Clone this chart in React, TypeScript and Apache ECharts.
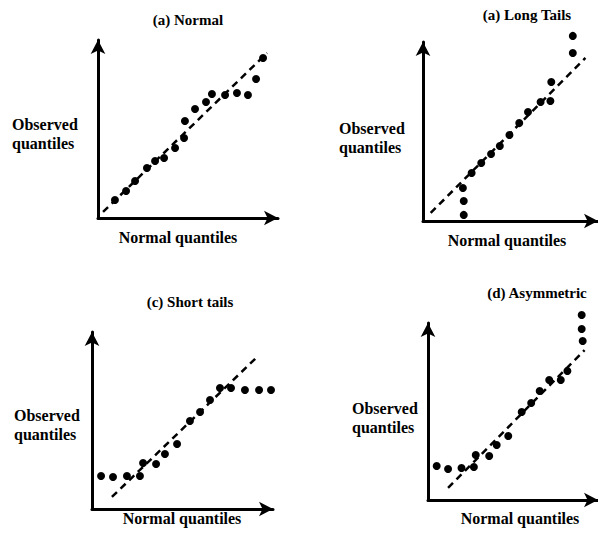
import React, { useEffect, useRef } from "react";
import * as echarts from "echarts";

// Panel titles and axis labels (as printed)
const panelTitles = ["(a) Normal", "(a) Long Tails", "(c) Short tails", "(d) Asymmetric"];
const xAxisLabel = "Normal quantiles";
const yAxisLabel = "Observed\nquantiles";

// Observed vs normal quantiles (axis units 0..10)
const normalPts: [number, number][] = [
  [0.94, 1.01], [1.56, 1.52], [2.06, 2.08], [2.72, 2.81], [3.17, 3.2], [3.67, 3.37],
  [4.28, 3.93], [4.78, 4.49], [4.83, 5.45], [5.39, 6.12], [6.0, 6.52], [6.33, 6.97],
  [7.06, 6.91], [7.72, 7.02], [8.33, 6.91], [8.78, 7.81], [9.17, 8.99],
];
const longTailPts: [number, number][] = [
  [2.33, 0.34], [2.33, 1.12], [2.28, 1.84], [2.78, 2.68], [3.33, 3.24], [3.89, 3.74],
  [4.39, 4.19], [4.94, 4.8], [5.5, 5.47], [6.0, 6.09], [6.72, 6.65], [7.28, 6.7],
  [7.33, 7.77], [8.56, 9.39], [8.56, 10.34],
];
const shortTailPts: [number, number][] = [
  [0.5, 1.86], [1.16, 1.81], [1.93, 1.86], [2.65, 1.86], [2.82, 2.6], [3.54, 2.54],
  [4.03, 3.11], [4.7, 3.67], [5.41, 4.97], [5.97, 5.48], [6.52, 6.16], [7.07, 6.84],
  [7.68, 6.84], [8.45, 6.72], [9.23, 6.72], [9.89, 6.72],
];
const asymPts: [number, number][] = [
  [0.51, 1.92], [1.18, 1.75], [1.97, 1.81], [2.7, 1.86], [2.81, 2.54], [3.6, 2.49],
  [4.04, 3.11], [4.72, 3.62], [5.51, 4.97], [6.07, 5.48], [6.57, 6.16], [7.13, 6.78],
  [7.81, 6.78], [8.2, 7.29], [9.1, 8.98], [9.04, 9.66], [9.04, 10.45],
];
// Reference (dashed) lines, endpoints
const normalRef: [number, number][] = [[0.28, 0.34], [9.39, 9.27]];
const longTailRef: [number, number][] = [[0.44, 0.45], [9.28, 9.11]];
const shortTailRef: [number, number][] = [[1.1, 0.68], [9.06, 8.53]];
const asymRef: [number, number][] = [[1.18, 0.68], [9.21, 8.47]];

const panelPoints = [normalPts, longTailPts, shortTailPts, asymPts];
const panelRefs = [normalRef, longTailRef, shortTailRef, asymRef];

// Layout (pixels)
const grids = [
  { left: 98, top: 40, width: 180, height: 178 },
  { left: 423, top: 42, width: 180, height: 179 },
  { left: 92, top: 332, width: 181, height: 177 },
  { left: 428, top: 323, width: 178, height: 177 },
];
const titlePos = [[188, 20], [527, 15], [190, 302], [537, 293]];
const yLabelPos = [[12, 134], [339, 138], [14, 425], [352, 418]];
const xLabelPos = [[178, 237], [507, 240], [182, 518], [520, 518]];

const FONT = '"Liberation Serif", "Times New Roman", serif';

export default function App() {
  const ref = useRef<HTMLDivElement>(null);
  useEffect(() => {
    if (!ref.current) return;
    const chart = echarts.init(ref.current, null, { renderer: "svg" });
    const axisBase = {
      type: "value" as const,
      min: 0,
      max: 10,
      axisLabel: { show: false },
      axisTick: { show: false },
      splitLine: { show: false },
      axisLine: {
        show: true,
        symbol: ["none", "arrow"],
        symbolSize: [11, 14],
        lineStyle: { color: "#000", width: 3 },
      },
    };
    const series: any[] = [];
    panelPoints.forEach((pts, i) => {
      series.push({
        type: "line",
        xAxisIndex: i,
        yAxisIndex: i,
        data: panelRefs[i],
        symbol: "none",
        clip: false,
        lineStyle: { color: "#000", width: 2.5, type: [7, 5] },
        z: 2,
      });
      series.push({
        type: "scatter",
        xAxisIndex: i,
        yAxisIndex: i,
        data: pts,
        symbol: "circle",
        symbolSize: 8,
        clip: false,
        itemStyle: { color: "#000", opacity: 1 },
        z: 3,
      });
    });
    const graphics: any[] = [];
    panelTitles.forEach((t, i) => {
      graphics.push({
        type: "text",
        x: titlePos[i][0],
        y: titlePos[i][1],
        style: {
          text: t,
          font: `bold 15px ${FONT}`,
          fill: "#000",
          align: "center",
          verticalAlign: "middle",
        },
      });
      graphics.push({
        type: "text",
        x: yLabelPos[i][0],
        y: yLabelPos[i][1],
        style: {
          text: yAxisLabel,
          font: `bold 16px ${FONT}`,
          lineHeight: 19,
          fill: "#000",
          align: "left",
          verticalAlign: "middle",
        },
      });
      graphics.push({
        type: "text",
        x: xLabelPos[i][0],
        y: xLabelPos[i][1],
        style: {
          text: xAxisLabel,
          font: `bold 16px ${FONT}`,
          fill: "#000",
          align: "center",
          verticalAlign: "middle",
        },
      });
    });
    chart.setOption({
      animation: false,
      backgroundColor: "#fff",
      grid: grids.map((g) => ({ ...g, containLabel: false })),
      xAxis: grids.map((_, i) => ({ ...axisBase, gridIndex: i })),
      yAxis: grids.map((_, i) => ({ ...axisBase, gridIndex: i })),
      series,
      graphic: graphics,
    });
    return () => chart.dispose();
  }, []);
  return (
    <div
      ref={ref}
      style={{ position: "absolute", left: 0, top: 0, width: 598, height: 537 }}
    />
  );
}
